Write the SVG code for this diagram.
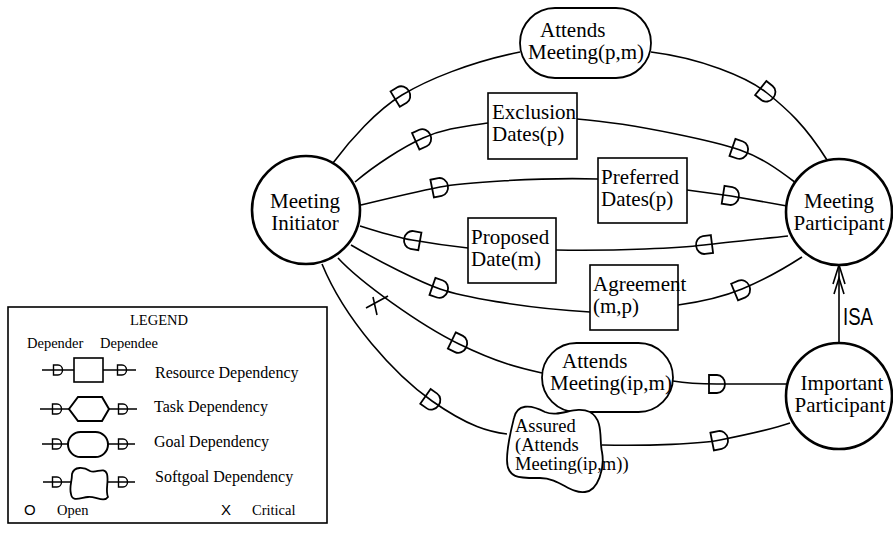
<svg xmlns="http://www.w3.org/2000/svg" xmlns:xlink="http://www.w3.org/1999/xlink" width="893" height="534" viewBox="0 0 893 534">
<style>
.ln{fill:none;stroke:#000;stroke-width:1.6}
.actor{fill:#fff;stroke:#000;stroke-width:2.6}
.box{fill:#fff;stroke:#000;stroke-width:1.6}
.goal{fill:#fff;stroke:#000;stroke-width:1.8}
.t{font-family:"Liberation Serif",serif;font-size:21px;fill:#000}
.ta{font-family:"Liberation Serif",serif;font-size:21px;fill:#000;text-anchor:middle}
.ts{font-family:"Liberation Serif",serif;font-size:18.5px;fill:#000}
.lg{font-family:"Liberation Serif",serif;font-size:16px;fill:#000}
.lsm{font-family:"Liberation Serif",serif;font-size:14.5px;fill:#000}
.sans{font-family:"Liberation Sans",sans-serif;fill:#000}
</style>
<defs>
<marker id="dF" markerUnits="userSpaceOnUse" markerWidth="24" markerHeight="24" viewBox="-12 -12 24 24" refX="0" refY="0" orient="auto" overflow="visible">
<path d="M-8,-9 H0 A8,9 0 0 1 0,9 H-8 Z" fill="none" stroke="#000" stroke-width="1.8"/>
</marker>
<marker id="dB" markerUnits="userSpaceOnUse" markerWidth="24" markerHeight="24" viewBox="-12 -12 24 24" refX="0" refY="0" orient="auto" overflow="visible">
<path d="M8,-9 H0 A8,9 0 0 0 0,9 H8 Z" fill="none" stroke="#000" stroke-width="1.8"/>
</marker>
<path id="dS" d="M-4.5,-5 H0 A4.5,5 0 0 1 0,5 H-4.5 Z" fill="none" stroke="#000" stroke-width="1.4"/>
</defs>
<rect width="893" height="534" fill="#fff"/>

<g id="connectors">
<path class="ln" marker-mid="url(#dF)" d="M333,163 C350,140 377,110 402,95 S470,62 520,52"/>
<path class="ln" marker-mid="url(#dF)" d="M651,52 C700,58 747,77 767,93 S805,125 827,160"/>
<path class="ln" marker-mid="url(#dF)" d="M355,182 C375,165 403,147 423,138 S460,127 488,123"/>
<path class="ln" marker-mid="url(#dF)" d="M577,119 C640,124 720,143 740,150 S775,167 796,183"/>
<path class="ln" marker-mid="url(#dF)" d="M361,205 C390,198 420,191 440,187 S540,177 598,179"/>
<path class="ln" marker-mid="url(#dF)" d="M687,190 L731,196 L787,206"/>
<path class="ln" marker-mid="url(#dB)" d="M360,226 C380,232 395,237 412,240 S450,246 468,248"/>
<path class="ln" marker-mid="url(#dB)" d="M556,250 C620,251 680,248 704,245 S760,239 788,236"/>
<path class="ln" marker-mid="url(#dF)" d="M351,245 C380,262 420,282 440,289 S520,308 590,312"/>
<path class="ln" marker-mid="url(#dF)" d="M678,305 C700,302 725,296 742,289 S785,268 802,257"/>
<path class="ln" marker-mid="url(#dF)" d="M338,258 C360,282 420,325 459,344 S520,368 542,373"/>
<path class="ln" marker-mid="url(#dF)" d="M673,381 Q690,384 717,384 L787,384"/>
<path class="ln" marker-mid="url(#dF)" d="M322,264 C345,320 395,375 432,401 S490,432 507,434"/>
<path class="ln" marker-mid="url(#dF)" d="M602,445 C650,446 700,444 720,440 S770,430 790,423"/>
<g id="critical-mark">
<path class="ln" d="M366,308 L388,296 M373,297 L377,315"/>
</g>
<g id="isa-link">
<path class="ln" d="M839,342 L839,267"/>
<path class="ln" d="M833,284 L839,265 L845,284 M834,294 L839,278 L844,294"/>
<text class="sans" x="843" y="325" font-size="24" textLength="30" lengthAdjust="spacingAndGlyphs">ISA</text>
</g>
</g>

<g id="meeting-initiator">
<circle class="actor" cx="306" cy="210" r="54"/>
<text class="ta" x="305" y="208">Meeting</text>
<text class="ta" x="305" y="230">Initiator</text>
</g>
<g id="meeting-participant">
<circle class="actor" cx="839" cy="212" r="53"/>
<text class="ta" x="839" y="208">Meeting</text>
<text class="ta" x="839" y="230">Participant</text>
</g>
<g id="important-participant">
<circle class="actor" cx="839" cy="396" r="53"/>
<text class="ta" x="842" y="390">Important</text>
<text class="ta" x="840" y="412">Participant</text>
</g>

<g id="attends-meeting-pm">
<rect class="goal" x="520" y="8" width="131" height="70" rx="35" ry="35"/>
<text class="t" x="540" y="37">Attends</text>
<text class="t" x="528" y="59">Meeting(p,m)</text>
</g>
<g id="exclusion-dates">
<rect class="box" x="488" y="93" width="89" height="66"/>
<text class="t" x="492" y="119">Exclusion</text>
<text class="t" x="492" y="141">Dates(p)</text>
</g>
<g id="preferred-dates">
<rect class="box" x="598" y="158" width="89" height="65"/>
<text class="t" x="601" y="184">Preferred</text>
<text class="t" x="601" y="206">Dates(p)</text>
</g>
<g id="proposed-date">
<rect class="box" x="468" y="218" width="88" height="65"/>
<text class="t" x="471" y="244">Proposed</text>
<text class="t" x="471" y="266">Date(m)</text>
</g>
<g id="agreement">
<rect class="box" x="590" y="265" width="88" height="65"/>
<text class="t" x="593" y="291">Agreement</text>
<text class="t" x="593" y="313">(m,p)</text>
</g>
<g id="attends-meeting-ipm">
<rect class="goal" x="542" y="343" width="131" height="69" rx="34.5" ry="34.5"/>
<text class="t" x="562" y="368">Attends</text>
<text class="t" x="550" y="390">Meeting(ip,m)</text>
</g>
<g id="assured-attends">
<path class="goal" d="M514,418 C517,404 530,404 545,412 C560,418 575,405 590,412 C604,420 599,440 602,452 C605,468 598,491 585,492 C570,494 560,478 540,478 C520,478 507,479 507,460 C507,445 511,430 514,418 Z"/>
<text class="ts" x="515" y="432">Assured</text>
<text class="ts" x="515" y="451">(Attends</text>
<text class="ts" x="515" y="470">Meeting(ip,m))</text>
</g>

<g id="legend">
<rect x="8" y="307" width="319" height="216" fill="#fff" stroke="#000" stroke-width="1.6"/>
<text class="lsm" x="159" y="325" font-size="17" text-anchor="middle">LEGEND</text>
<text class="lsm" x="27" y="348">Depender</text>
<text class="lsm" x="100" y="348">Dependee</text>
<path class="ln" d="M42,370 H74 M103,370 H136"/>
<rect class="box" x="74" y="358" width="29" height="24"/>
<use xlink:href="#dS" x="58" y="370"/>
<use xlink:href="#dS" x="122" y="370"/>
<text class="lg" x="155" y="378">Resource Dependency</text>
<path class="ln" d="M40,409 H69 M109,409 H137"/>
<polygon points="69,409 78,397 102,397 109,409 102,421 78,421" fill="#fff" stroke="#000" stroke-width="2"/>
<use xlink:href="#dS" x="57" y="409"/>
<use xlink:href="#dS" x="123" y="409"/>
<text class="lg" x="154" y="412">Task Dependency</text>
<path class="ln" d="M42,444 H68 M108,444 H135"/>
<rect x="68" y="432" width="40" height="25" rx="12.5" ry="12.5" fill="#fff" stroke="#000" stroke-width="2"/>
<use xlink:href="#dS" x="57" y="444"/>
<use xlink:href="#dS" x="123" y="444"/>
<text class="lg" x="154" y="447">Goal Dependency</text>
<path class="ln" d="M43,482 H71 M108,482 H135"/>
<path d="M72,474 C74,466 84,467 90,471 C96,474 104,466 107,474 C109,482 105,490 108,497 C104,503 95,496 88,497 C80,498 72,502 71,494 C69,487 72,482 72,474 Z" fill="#fff" stroke="#000" stroke-width="1.8"/>
<use xlink:href="#dS" x="57" y="482"/>
<use xlink:href="#dS" x="123" y="482"/>
<text class="lg" x="155" y="482">Softgoal Dependency</text>
<text class="sans" x="24" y="515" font-size="15">O</text>
<text class="lsm" x="57" y="515">Open</text>
<text class="sans" x="221" y="515" font-size="15">X</text>
<text class="lsm" x="252" y="515">Critical</text>
</g>
</svg>
